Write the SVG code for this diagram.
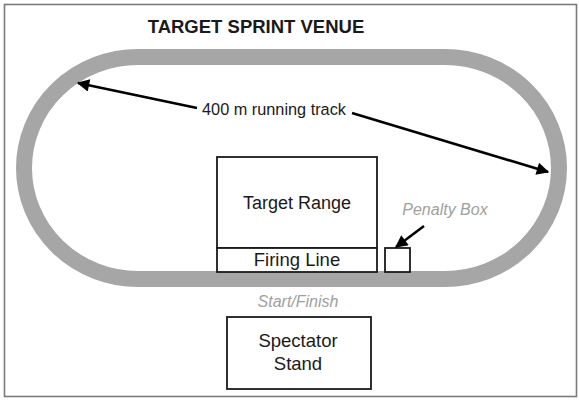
<svg xmlns="http://www.w3.org/2000/svg" width="579" height="400" viewBox="0 0 579 400">
<style>
.lbl{font-family:"Liberation Sans",Arial,sans-serif;fill:#1a1a1a;text-anchor:middle}
.note{font-family:"Liberation Sans",Arial,sans-serif;fill:#a0a0a0;font-style:italic;text-anchor:middle;font-size:16px}
.box{fill:#fff;stroke:#1a1a1a;stroke-width:1.8}
.conn{stroke:#000;stroke-width:2.6;fill:none}
</style>
<defs>
<marker id="ah" viewBox="0 0 10 10" refX="9" refY="5" markerWidth="6.5" markerHeight="4.8" markerUnits="strokeWidth" orient="auto">
<path d="M0,0 L10,5 L0,10 z" fill="#000"/>
</marker>
</defs>
<rect x="0" y="0" width="579" height="400" fill="#fff"/>
<rect x="4.5" y="4.5" width="572" height="392" fill="none" stroke="#7a7a7a" stroke-width="1.6"/>
<text class="lbl" x="256" y="33" font-size="18.5" font-weight="bold">TARGET SPRINT VENUE</text>
<g id="track">
<rect x="24" y="57" width="535" height="222" rx="114" ry="111" fill="none" stroke="#a6a6a6" stroke-width="16"/>
</g>
<g id="track-label">
<text class="lbl" x="274" y="115" font-size="16.3">400 m running track</text>
</g>
<g id="target-range">
<rect class="box" x="217" y="157" width="160" height="91"/>
<text class="lbl" x="297" y="209" font-size="18">Target Range</text>
</g>
<g id="firing-line">
<rect class="box" x="217" y="248" width="160" height="24"/>
<text class="lbl" x="297" y="266" font-size="18.5">Firing Line</text>
</g>
<g id="penalty-box">
<rect class="box" x="385" y="248" width="25" height="24"/>
<text class="note" x="445" y="215">Penalty Box</text>
</g>
<g id="start-finish">
<text class="note" x="298" y="307">Start/Finish</text>
</g>
<g id="spectator-stand">
<rect class="box" x="227" y="317" width="144" height="72" stroke="#333"/>
<text class="lbl" x="298" y="347" font-size="18.5">Spectator</text>
<text class="lbl" x="298" y="370" font-size="18.5">Stand</text>
</g>
<g id="connectors">
<line class="conn" x1="197" y1="108" x2="78" y2="83" marker-end="url(#ah)"/>
<line class="conn" x1="352" y1="113" x2="548" y2="172" marker-end="url(#ah)"/>
<line class="conn" x1="424" y1="226" x2="396" y2="247" marker-end="url(#ah)"/>
</g>
</svg>
